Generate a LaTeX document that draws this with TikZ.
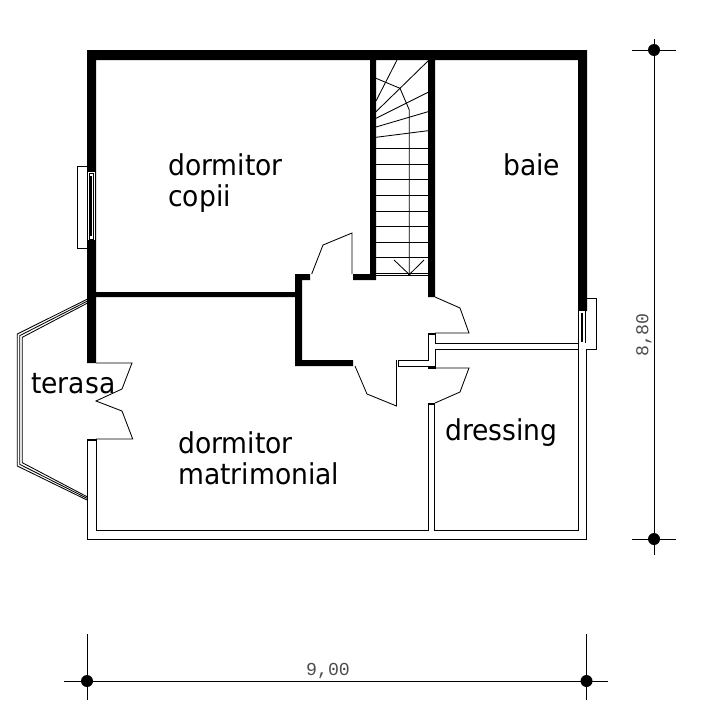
\documentclass[tikz,border=0pt]{standalone}
\usepackage{fontspec}
\setmainfont{DejaVu Sans}
\newfontfamily\dimfont{Liberation Mono}

\begin{document}
\begin{tikzpicture}[
  x=1pt, y=-1pt,
  wall/.style={fill=black, draw=none},
  thin/.style={draw, line width=0.9pt},
  hair/.style={draw, line width=0.85pt},
  room/.style={inner sep=0pt, anchor=base west, yscale=1.08, transform shape, font=\fontsize{26.6}{26.6}\selectfont, text=black},
  dimtext/.style={inner sep=0pt, text=black!70, font=\dimfont\fontsize{18.2}{18.2}\selectfont},
  dimdot/.style={fill=black, circle, inner sep=0pt, minimum size=12pt}
]
\useasboundingbox (0,0) rectangle (723,710);

% Load-bearing walls
\path[wall] (87,50) -- (587,50) -- (587,311) -- (578,311) -- (578,60) -- (435,60) -- (435,297)
  -- (428,297) -- (428,60) -- (376,60) -- (376,280) -- (353,280) -- (353,274) -- (370,274)
  -- (370,60) -- (96,60) -- (96,292) -- (295,292) -- (295,274) -- (310,274) -- (310,280)
  -- (302,280) -- (302,360) -- (353,360) -- (353,366) -- (295,366) -- (295,297) -- (96,297)
  -- (96,363) -- (87,363) -- cycle;

% Light walls
\path[thin] (87,439) -- (87,539) -- (586,539) -- (586,349);
\path[thin] (96,439) -- (96,530.5) -- (428,530.5) -- (428,403) -- (434.5,403) -- (434.5,530.5)
  -- (578,530.5) -- (578,349) -- (435,349) -- (435,368) -- (428,368) -- (428,366) -- (398,366)
  -- (398,360) -- (428,360) -- (428,333) -- (435,333) -- (435,343) -- (578,343) -- (578,349);
\path[wall] (428,333) rectangle (435,335);
\path[wall] (428,366) rectangle (435,368);
\path[wall] (428,403) rectangle (435,405);
\path[wall] (87,439) rectangle (96,441);

% Stairs
\foreach \y in {148.3,164,179.7,195.3,211,226.7,242.3,257.7,273.3,275.7}
  \path[hair] (376,\y) -- (428,\y);
\path[hair] (376,137.3) -- (428,130.7);
\path[hair] (376,127) -- (428,111.7);
\path[hair] (376,118.3) -- (428,92.3);
\path[hair] (376,111.7) -- (428,61);
\path[hair] (376,101) -- (397,60);
\path[hair] (409.3,275) -- (409.3,110) -- (400,88.3) -- (376,78.3);
\path[hair] (394,260) -- (409.3,274.5) -- (424,260);
\fill (409.3,274.5) circle (1.4pt);

% Doors
\path[hair] (311.7,274) -- (323,245) -- (352,233) -- (352,274);
\path[hair] (435,297) -- (460,308) -- (469,333) -- (435,333);
\path[hair] (355,366) -- (367,394) -- (396.5,406) -- (396.5,360);
\path[hair] (435,368) -- (469,368) -- (460,392) -- (435,403);
\path[hair] (96,363) -- (132,363) -- (122,389) -- (96,401) -- (122,411) -- (132.7,439) -- (96,439);

% Terrace railing
\path[hair] (87,299.3) -- (17.3,334) -- (17.3,466) -- (87,500);
\path[hair] (87,301.3) -- (19.8,335.6) -- (19.8,464.4) -- (87,498.3);
\path[hair] (87,303.3) -- (22.3,337.3) -- (22.3,462.7) -- (87,496.7);

% Windows
\path[fill=white] (87,172) rectangle (96,240);
\path[thin] (87,166) -- (77.5,166) -- (77.5,248) -- (87,248);
\path[hair] (87.5,172) -- (87.5,240);
\path[hair] (95.5,172) -- (95.5,240);
\path[hair] (89.5,173) rectangle (93,239);
\path[wall] (90.2,176) rectangle (92.2,236);
\path[fill=white] (578,311) rectangle (586,343);
\path[thin] (586,298) -- (596,298) -- (596,349) -- (586,349);
\path[hair] (586,298) -- (586,311);
\path[hair] (578.5,311) -- (578.5,343);
\path[hair] (585.5,311) -- (585.5,343);
\path[wall] (581,313) rectangle (583,342);

% Room names
\node[room] (copii1) at (168,175) {dormitor};
\node[room] (copii2) at (168,206) {copii};
\node[room] (baie) at (503,175) {baie};
\node[room] (terasa) at (31,393) {terasa};
\node[room] (matrim1) at (178,453) {dormitor};
\node[room] (matrim2) at (178,484) {matrimonial};
\node[room] (dressing) at (445,440) {dressing};

% Width dimension
\node[dimdot] (wleft) at (87,681) {};
\node[dimdot] (wright) at (586.5,681) {};
\coordinate (wstart) at (64,681);
\coordinate (wend) at (608,681);
\draw[thin] (wstart) -- (wend);
\draw[thin] (87,634) -- (87,700);
\draw[thin] (586.5,634) -- (586.5,700);
\node[dimtext] (wlabel) at (328,671) {9,00};

% Height dimension
\node[dimdot] (htop) at (654,50) {};
\node[dimdot] (hbottom) at (654,539) {};
\draw[thin] (654,39) -- (654,555);
\draw[thin] (632,50) -- (676,50);
\draw[thin] (632,539) -- (676,539);
\node[dimtext, rotate=90] (hlabel) at (644,335) {8,80};
\end{tikzpicture}
\end{document}
